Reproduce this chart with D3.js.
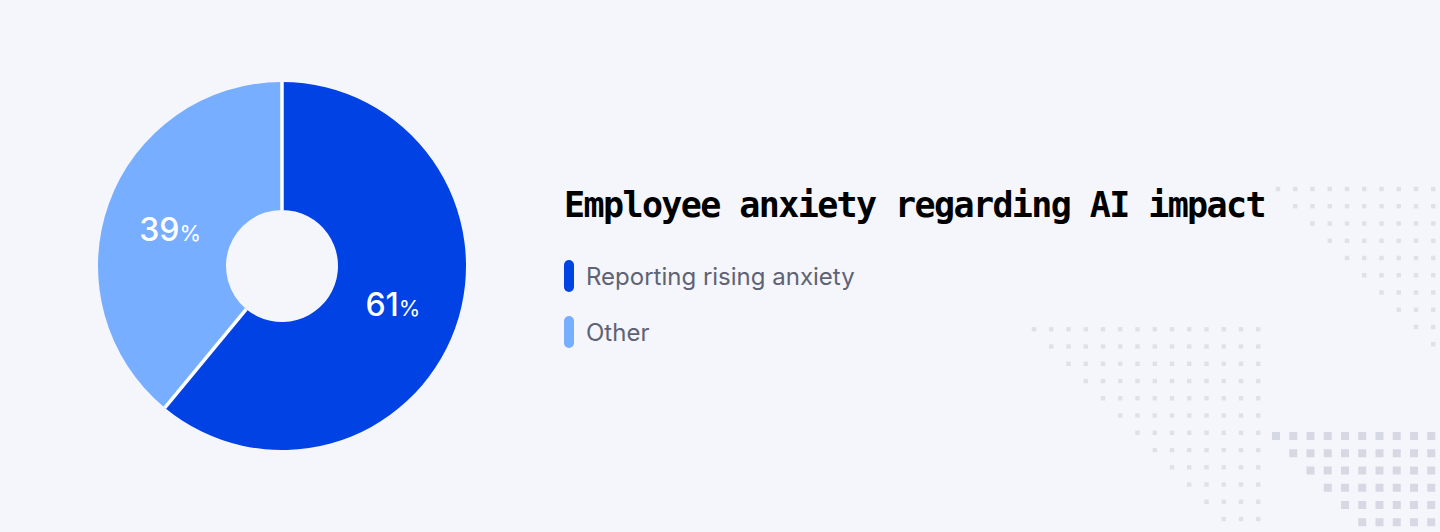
<!DOCTYPE html>
<html>
<head>
<meta charset="utf-8">
<script src="https://cdn.jsdelivr.net/npm/d3@7"></script>
<style>
  html, body { margin: 0; padding: 0; background: #f4f6fb; overflow: hidden; }
  svg { display: block; }
</style>
</head>
<body>
<div id="chart"></div>
<script>
const categories = ["Reporting rising anxiety", "Other"];
const values = [61, 39];
const colors = ["#0042e4", "#77aeff"];
const title = "Employee anxiety regarding AI impact";

const width = 1440, height = 532;
const bg = "#f4f6fb";

const svg = d3.select("#chart").append("svg")
  .attr("width", width)
  .attr("height", height);

svg.append("rect").attr("width", width).attr("height", height).attr("fill", bg);

// background dot pattern, each row starts one column further right
const dotPatterns = [
  { x0: 1278, y0: 189, cols: 10, rows: 10, size: 4.4, color: "#dfe1ea" },
  { x0: 1034, y0: 329.3, cols: 14, rows: 12, size: 4.4, color: "#dfe1ea" },
  { x0: 1276, y0: 436, cols: 10, rows: 6, size: 8, color: "#d6d9e4" }
];
const pitch = 17.25;

dotPatterns.forEach(p => {
  const xDot = d3.scaleLinear().domain([0, 1]).range([p.x0, p.x0 + pitch]);
  const yDot = d3.scaleLinear().domain([0, 1]).range([p.y0, p.y0 + pitch]);
  const cells = d3.range(p.rows).flatMap(r =>
    d3.range(r, p.cols).map(c => ({ r, c })));
  svg.append("g").selectAll("rect")
    .data(cells)
    .enter()
    .append("rect")
    .attr("x", d => xDot(d.c) - p.size / 2)
    .attr("y", d => yDot(d.r) - p.size / 2)
    .attr("width", p.size)
    .attr("height", p.size)
    .attr("fill", p.color);
});

// donut
const cx = 282, cy = 266, outerR = 184, innerR = 56;

const pie = d3.pie().sort(null).value(d => d);
const arc = d3.arc().innerRadius(innerR).outerRadius(outerR);
const slices = pie(values);

const donut = svg.append("g").attr("transform", `translate(${cx},${cy})`);

donut.selectAll(".slice")
  .data(slices)
  .enter()
  .append("path")
  .attr("class", "slice")
  .attr("d", arc)
  .attr("fill", (d, i) => colors[i]);

// white separators between slices
donut.selectAll(".sep")
  .data(slices)
  .enter()
  .append("line")
  .attr("class", "sep")
  .attr("x1", d => innerR * Math.sin(d.startAngle))
  .attr("y1", d => -innerR * Math.cos(d.startAngle))
  .attr("x2", d => outerR * Math.sin(d.startAngle))
  .attr("y2", d => -outerR * Math.cos(d.startAngle))
  .attr("stroke", "#fff")
  .attr("stroke-width", 3.5);

// the 39% label sits a little lower than its centroid in the original
const labelNudge = [[-2, 9], [1, 16]];

const labels = donut.selectAll(".label")
  .data(slices)
  .enter()
  .append("text")
  .attr("class", "label")
  .attr("transform", d => `translate(${arc.centroid(d)})`)
  .attr("dx", (d, i) => labelNudge[i][0])
  .attr("dy", (d, i) => labelNudge[i][1])
  .attr("text-anchor", "middle")
  .attr("fill", "#fff")
  .attr("font-family", "Inter")
  .attr("font-weight", 500)
  .attr("font-size", 32);

labels.append("tspan").text(d => d.value);
labels.append("tspan").attr("font-size", 22).attr("font-weight", 400).text("%");

// title
svg.append("text")
  .attr("x", 564)
  .attr("y", 217)
  .attr("font-family", "'DejaVu Sans Mono'")
  .attr("font-weight", 700)
  .attr("font-size", 35)
  .attr("letter-spacing", -1.6)
  .attr("fill", "#000")
  .text(title);

// legend
const legendY = d3.scaleBand().domain(categories).range([248, 360]);

const legend = svg.append("g").selectAll("g")
  .data(categories)
  .enter()
  .append("g")
  .attr("transform", d => `translate(564,${legendY(d)})`);

legend.append("rect")
  .attr("y", 12)
  .attr("width", 10)
  .attr("height", 32)
  .attr("rx", 5)
  .attr("fill", (d, i) => colors[i]);

legend.append("text")
  .attr("x", 22)
  .attr("y", 37)
  .attr("font-family", "Inter")
  .attr("font-size", 24)
  .attr("fill", "#5f6275")
  .text(d => d);
</script>
</body>
</html>
